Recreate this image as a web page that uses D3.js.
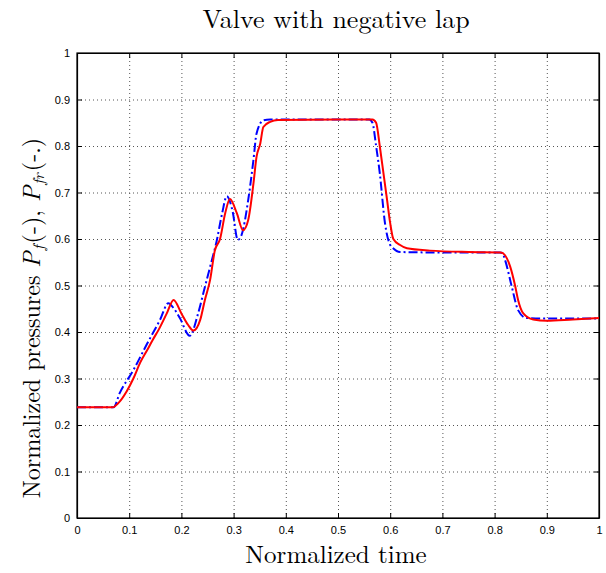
<!DOCTYPE html>
<html>
<head>
<meta charset="utf-8">
<script src="https://cdn.jsdelivr.net/npm/d3@7"></script>
<style>
  body { margin: 0; background: #fff; }
  svg { display: block; }
</style>
</head>
<body>
<svg id="chart" width="606" height="573"></svg>
<script>
// P_f (solid red)
const tRed = [0, 0.068, 0.08, 0.095, 0.108, 0.121, 0.137, 0.145, 0.156, 0.172, 0.185, 0.2, 0.213, 0.223,
  0.236, 0.245, 0.255, 0.264, 0.274, 0.284, 0.293, 0.306, 0.318, 0.328, 0.338, 0.344, 0.351, 0.357,
  0.37, 0.385, 0.5, 0.566, 0.573, 0.58, 0.587, 0.594, 0.6, 0.606, 0.619, 0.632, 0.676, 0.75, 0.812,
  0.82, 0.83, 0.839, 0.845, 0.855, 0.874, 0.9, 0.95, 1.0];
const pRed = [0.238, 0.238, 0.248, 0.272, 0.300, 0.334, 0.366, 0.383, 0.404, 0.44, 0.469, 0.44, 0.415, 0.403,
  0.426, 0.469, 0.512, 0.575, 0.600, 0.656, 0.686, 0.656, 0.619, 0.641, 0.719, 0.777, 0.805, 0.841,
  0.852, 0.856, 0.857, 0.857, 0.85, 0.8, 0.742, 0.684, 0.634, 0.600, 0.587, 0.580, 0.575, 0.572, 0.571,
  0.565, 0.540, 0.501, 0.469, 0.44, 0.427, 0.424, 0.427, 0.43];

// P_fr (dash-dot blue)
const tBlue = [0, 0.07, 0.082, 0.108, 0.133, 0.159, 0.175, 0.186, 0.197, 0.216, 0.232, 0.245, 0.255, 0.268,
  0.278, 0.287, 0.298, 0.308, 0.315, 0.328, 0.338, 0.344, 0.357, 0.37, 0.56, 0.566, 0.573, 0.58, 0.59,
  0.6, 0.603, 0.619, 0.7, 0.81, 0.815, 0.82, 0.833, 0.845, 0.861, 0.9, 1.0];
const pBlue = [0.238, 0.238, 0.269, 0.318, 0.372, 0.426, 0.462, 0.450, 0.43, 0.392, 0.44, 0.497, 0.54, 0.598,
  0.655, 0.692, 0.66, 0.598, 0.608, 0.684, 0.77, 0.827, 0.855, 0.857, 0.857, 0.85, 0.8, 0.742, 0.634,
  0.587, 0.583, 0.572, 0.571, 0.571, 0.57, 0.555, 0.497, 0.447, 0.43, 0.429, 0.429];

const xTicks = [0, 0.1, 0.2, 0.3, 0.4, 0.5, 0.6, 0.7, 0.8, 0.9, 1];
const yTicks = [0, 0.1, 0.2, 0.3, 0.4, 0.5, 0.6, 0.7, 0.8, 0.9, 1];

const svg = d3.select('#chart');
const margin = { left: 77, right: 7, top: 53, bottom: 55 };
const width = 606, height = 573;

const x = d3.scaleLinear().domain([0, 1]).range([margin.left, width - margin.right]);
const y = d3.scaleLinear().domain([0, 1]).range([height - margin.bottom, margin.top]);

const tickFont = '"Liberation Sans", Arial, sans-serif';
const serif = '"Latin Modern Roman", "CMU Serif", "DejaVu Serif", serif';

// grid
const grid = svg.append('g').attr('class', 'grid')
  .attr('stroke', '#555').attr('stroke-width', 1).attr('stroke-dasharray', '1,3');
grid.selectAll('.gx').data(xTicks.slice(1, -1)).enter().append('line')
  .attr('x1', d => x(d) + 0.5).attr('x2', d => x(d) + 0.5)
  .attr('y1', y(0)).attr('y2', y(1));
grid.selectAll('.gy').data(yTicks.slice(1, -1)).enter().append('line')
  .attr('y1', d => y(d) + 0.5).attr('y2', d => y(d) + 0.5)
  .attr('x1', x(0)).attr('x2', x(1));

// axes, ticks inward on all sides
const tl = 5;
svg.append('g').attr('transform', `translate(0,${y(0)})`)
  .call(d3.axisBottom(x).tickValues(xTicks).tickSizeInner(-tl).tickSizeOuter(0).tickPadding(8)
    .tickFormat(d => d3.format('')(d)));
svg.append('g').attr('transform', `translate(0,${y(1)})`)
  .call(d3.axisTop(x).tickValues(xTicks).tickSizeInner(-tl).tickSizeOuter(0).tickFormat(''));
svg.append('g').attr('transform', `translate(${x(0)},0)`)
  .call(d3.axisLeft(y).tickValues(yTicks).tickSizeInner(-tl).tickSizeOuter(0).tickPadding(7)
    .tickFormat(d => d3.format('')(d)));
svg.append('g').attr('transform', `translate(${x(1)},0)`)
  .call(d3.axisRight(y).tickValues(yTicks).tickSizeInner(-tl).tickSizeOuter(0).tickFormat(''));

svg.selectAll('.domain').attr('stroke', '#000').attr('stroke-width', 1.2);
svg.selectAll('.tick line').attr('stroke', '#000');
svg.selectAll('.tick text').attr('font-family', tickFont).attr('font-size', '11px').attr('fill', '#000');

// frame
svg.append('rect')
  .attr('x', x(0)).attr('y', y(1))
  .attr('width', x(1) - x(0)).attr('height', y(0) - y(1))
  .attr('fill', 'none').attr('stroke', '#000').attr('stroke-width', 1.2);

// lines
const line = d3.line().x(d => x(d[0])).y(d => y(d[1])).curve(d3.curveMonotoneX);

svg.append('path')
  .datum(tBlue.map((t, i) => [t, pBlue[i]]))
  .attr('d', line)
  .attr('fill', 'none')
  .attr('stroke', '#0000ff')
  .attr('stroke-width', 2)
  .attr('stroke-dasharray', '9,3,2,3');

svg.append('path')
  .datum(tRed.map((t, i) => [t, pRed[i]]))
  .attr('d', line)
  .attr('fill', 'none')
  .attr('stroke', '#ff0000')
  .attr('stroke-width', 2);

// title
svg.append('text')
  .attr('x', 336).attr('y', 28)
  .attr('text-anchor', 'middle')
  .attr('font-family', serif).attr('font-size', '26px')
  .text('Valve with negative lap');

// x label
svg.append('text')
  .attr('x', 336).attr('y', 563)
  .attr('text-anchor', 'middle')
  .attr('font-family', serif).attr('font-size', '25px')
  .text('Normalized time');

// y label
const yl = svg.append('text')
  .attr('transform', 'translate(40,318) rotate(-90)')
  .attr('text-anchor', 'middle')
  .attr('font-family', serif).attr('font-size', '24px');
yl.append('tspan').text('Normalized pressures ');
yl.append('tspan').attr('font-style', 'italic').text('P');
yl.append('tspan').attr('font-style', 'italic').attr('font-size', '16px').attr('dx', 1).attr('baseline-shift', '-4').text('f');
yl.append('tspan').attr('dx', 2).text('(-), ');
yl.append('tspan').attr('font-style', 'italic').text('P');
yl.append('tspan').attr('font-style', 'italic').attr('font-size', '16px').attr('dx', 1).attr('baseline-shift', '-4').text('fr');
yl.append('tspan').attr('dx', 2).text('(-.)');
</script>
</body>
</html>
